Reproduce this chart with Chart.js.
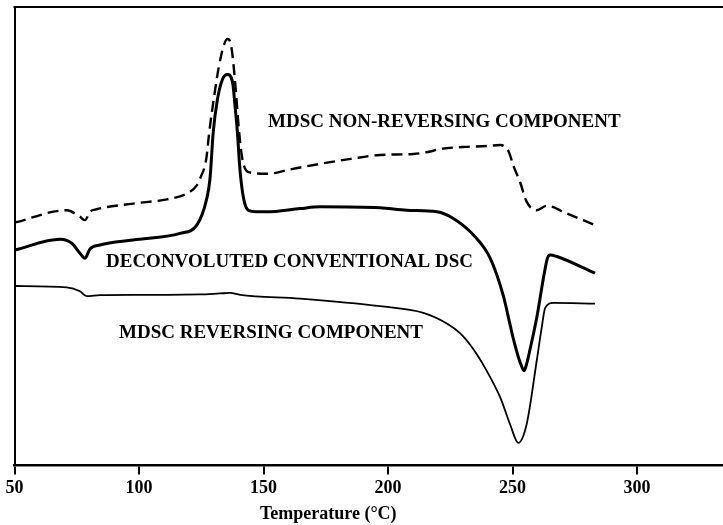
<!DOCTYPE html>
<html>
<head>
<meta charset="utf-8">
<script src="https://cdn.jsdelivr.net/npm/chart.js@4/dist/chart.umd.min.js"></script>
<style>
  html, body { margin: 0; padding: 0; background: #fff; overflow: hidden; }
  #dscChart { display: block; }
</style>
</head>
<body>
<canvas id="dscChart" width="723" height="525"></canvas>
<script>
// -------------------------
// Data (temperature in °C, heat flow in arbitrary units)
// -------------------------
const X_TICKS = [50, 100, 150, 200, 250, 300];
const X_TITLE = "Temperature (°C)";

const NR_LABEL = "MDSC NON-REVERSING COMPONENT";
const NR_TEMPS = [50.2, 71, 76.3, 78.3, 80.3, 83, 97.6, 111.2, 119.2, 123.2, 124.5, 127, 128.2, 130, 132, 134, 135.5, 137, 138.5, 140.2, 141.5, 143.9, 151.3, 161.8, 172.7, 185, 196.8, 210.2, 216, 221, 230, 240, 245, 248.5, 250.3, 253, 255.7, 259.7, 263.7, 271.8, 283.1];
const NR_VALUES = [244.7, 257, 250.4, 247, 255.4, 258, 263.7, 268, 273.7, 282, 288.7, 308.7, 335.7, 368.7, 400.7, 422.7, 429.4, 422.7, 388.7, 335.7, 308.7, 295.4, 293.7, 298.7, 303.7, 308.7, 312.7, 313.7, 315.7, 318.7, 320.7, 321.7, 322.7, 315.7, 302, 285.4, 265.4, 257, 261.4, 253.7, 242];

const DSC_LABEL = "DECONVOLUTED CONVENTIONAL DSC";
const DSC_TEMPS = [50.2, 68.3, 73, 76.3, 78.3, 80.3, 84.3, 97.6, 116.5, 123.2, 127.2, 128.5, 129.8, 131.5, 133.5, 135.5, 137.5, 138.5, 139.5, 140.5, 142, 143.9, 147, 151.3, 164.7, 172.7, 196.8, 207.5, 219.6, 226.2, 234.3, 241, 246.3, 249, 250.3, 252.5, 253.5, 254.6, 255.7, 257, 259.7, 262.4, 264, 265.1, 267.8, 283.1];
const DSC_VALUES = [217, 227.7, 223.7, 213.7, 208.7, 218, 222, 227, 233.7, 242, 268.7, 288.7, 335.7, 368.7, 388.7, 393.7, 386.7, 363.7, 335.7, 298.7, 268.7, 257, 255.4, 255.4, 258.7, 260.4, 259.4, 257, 255.4, 248.7, 232, 208.7, 170.7, 141.7, 127.7, 107.7, 100.7, 95.4, 102.7, 116.7, 148.7, 188.7, 208.7, 212, 210.4, 193.7];

const REV_LABEL = "MDSC REVERSING COMPONENT";
const REV_TEMPS = [50.2, 71, 76.3, 79, 84.3, 97.6, 111.2, 124.5, 132.5, 136.5, 140.6, 164.7, 196.8, 214.2, 223.6, 229, 234, 239, 245, 249.1, 252.3, 255.7, 259.7, 261.7, 263.1, 266.4, 283.1];
const REV_VALUES = [180.7, 179.4, 175.4, 170.4, 171.4, 171.7, 171.7, 172.2, 173.2, 173.7, 171.7, 168, 160.4, 153.7, 143, 133, 118, 98, 68.7, 40.7, 22.7, 42, 105.4, 138.7, 158.7, 163.7, 163];

const toPoints = (xs, ys) => xs.map((x, i) => ({ x, y: ys[i] }));

const SERIF = '"Liberation Serif", "Times New Roman", serif';

// -------------------------
// Plugins: top frame line, curve labels, axis title
// -------------------------
const annotations = {
  id: 'annotations',
  afterDraw(chart) {
    const { ctx, chartArea, scales } = chart;
    ctx.save();
    // top edge of the frame
    ctx.strokeStyle = '#000';
    ctx.lineWidth = 2;
    ctx.beginPath();
    ctx.moveTo(chartArea.left - 1, chartArea.top);
    ctx.lineTo(chartArea.right, chartArea.top);
    ctx.stroke();

    ctx.fillStyle = '#000';
    ctx.textBaseline = 'middle';
    ctx.font = `bold 19px ${SERIF}`;
    ctx.textAlign = 'left';
    ctx.fillText(NR_LABEL, 268, 122);
    ctx.fillText(DSC_LABEL, 106, 262);
    ctx.textAlign = 'right';
    ctx.fillText(REV_LABEL, 423, 333);

    ctx.font = `bold 18px ${SERIF}`;
    ctx.textAlign = 'center';
    ctx.fillText(X_TITLE, scales.x.getPixelForValue(176), 514);
    ctx.restore();
  }
};

// -------------------------
// Chart
// -------------------------
new Chart(document.getElementById('dscChart'), {
  type: 'line',
  data: {
    datasets: [
      {
        label: NR_LABEL,
        data: toPoints(NR_TEMPS, NR_VALUES),
        borderColor: '#000',
        borderWidth: 2.4,
        borderDash: [11, 6],
        pointRadius: 0,
        cubicInterpolationMode: 'monotone'
      },
      {
        label: DSC_LABEL,
        data: toPoints(DSC_TEMPS, DSC_VALUES),
        borderColor: '#000',
        borderWidth: 3,
        pointRadius: 0,
        cubicInterpolationMode: 'monotone'
      },
      {
        label: REV_LABEL,
        data: toPoints(REV_TEMPS, REV_VALUES),
        borderColor: '#000',
        borderWidth: 1.8,
        pointRadius: 0,
        cubicInterpolationMode: 'monotone'
      }
    ]
  },
  options: {
    responsive: false,
    animation: false,
    devicePixelRatio: 1,
    layout: { padding: { left: 14.5, top: 7, right: 0, bottom: 23 } },
    plugins: {
      legend: { display: false },
      tooltip: { enabled: false }
    },
    scales: {
      x: {
        type: 'linear',
        min: 50,
        max: 334.5,
        afterBuildTicks: (axis) => { axis.ticks = X_TICKS.map(v => ({ value: v })); },
        grid: { display: true, drawOnChartArea: false, drawTicks: true, tickLength: 9, color: '#000', lineWidth: 2 },
        border: { display: true, color: '#000', width: 2.5 },
        ticks: { color: '#000', padding: 3, maxRotation: 0, font: { family: SERIF, size: 18, weight: 'bold' } }
      },
      y: {
        min: 0,
        max: 461.7,
        grid: { display: false, drawTicks: false },
        border: { display: true, color: '#000', width: 2 },
        ticks: { display: false }
      }
    }
  },
  plugins: [annotations]
});
</script>
</body>
</html>
